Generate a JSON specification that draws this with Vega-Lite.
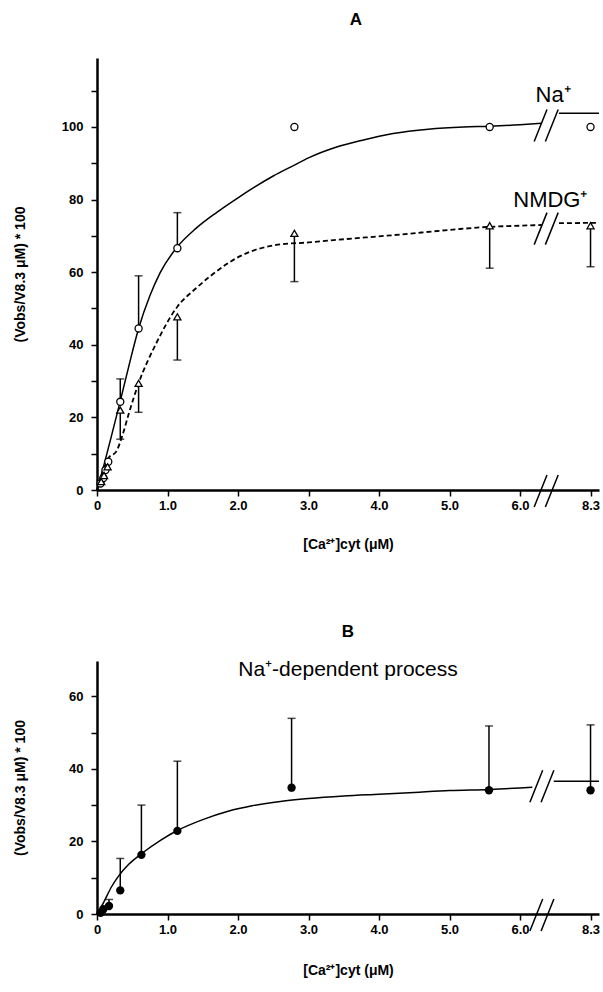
{
  "$schema": "https://vega.github.io/schema/vega-lite/v6.json",
  "background": "white",
  "padding": {"left": 13, "top": 11, "right": 0, "bottom": 5},
  "spacing": 72,
  "config": {
    "view": {"stroke": null},
    "font": "Liberation Sans",
    "axis": {"grid": false, "domainColor": "black", "domainWidth": 2.5, "tickColor": "black", "tickWidth": 1.5, "tickSize": 6,
      "labelColor": "black", "labelFont": "Liberation Sans", "labelFontWeight": "bold", "labelFontSize": 13,
      "titleFont": "Liberation Sans", "titleFontWeight": "bold", "titleFontSize": 14, "titleColor": "black"},
    "title": {"font": "Liberation Sans", "fontSize": 17, "fontWeight": "bold", "color": "black", "anchor": "middle",
      "subtitleFont": "Liberation Sans", "subtitleFontSize": 21, "subtitleColor": "black"}
  },
  "datasets": {
    "curveA": [
      {"series": "Na", "seg": 1, "ca": 0, "v": 0}, {"series": "Na", "seg": 1, "ca": 0.1, "v": 7}, {"series": "Na", "seg": 1, "ca": 0.2, "v": 14.5},
      {"series": "Na", "seg": 1, "ca": 0.33, "v": 24.5}, {"series": "Na", "seg": 1, "ca": 0.45, "v": 34}, {"series": "Na", "seg": 1, "ca": 0.59, "v": 44.5},
      {"series": "Na", "seg": 1, "ca": 0.75, "v": 53.5}, {"series": "Na", "seg": 1, "ca": 0.9, "v": 60}, {"series": "Na", "seg": 1, "ca": 1.14, "v": 67},
      {"series": "Na", "seg": 1, "ca": 1.4, "v": 72}, {"series": "Na", "seg": 1, "ca": 1.7, "v": 76.5}, {"series": "Na", "seg": 1, "ca": 2.0, "v": 80.5},
      {"series": "Na", "seg": 1, "ca": 2.5, "v": 86.5}, {"series": "Na", "seg": 1, "ca": 2.8, "v": 89.5}, {"series": "Na", "seg": 1, "ca": 3.0, "v": 91.5},
      {"series": "Na", "seg": 1, "ca": 3.4, "v": 94.5}, {"series": "Na", "seg": 1, "ca": 3.75, "v": 96.3}, {"series": "Na", "seg": 1, "ca": 4.2, "v": 98.2},
      {"series": "Na", "seg": 1, "ca": 4.7, "v": 99.4}, {"series": "Na", "seg": 1, "ca": 5.2, "v": 100}, {"series": "Na", "seg": 1, "ca": 5.57, "v": 100.2},
      {"series": "Na", "seg": 1, "ca": 6.0, "v": 100.6}, {"series": "Na", "seg": 1, "ca": 6.71, "v": 101},
      {"series": "Na", "seg": 2, "ca": 7.27, "v": 103.8}, {"series": "Na", "seg": 2, "ca": 8.576, "v": 103.8},
      {"series": "NMDG", "seg": 1, "ca": 0, "v": 0}, {"series": "NMDG", "seg": 1, "ca": 0.1, "v": 6}, {"series": "NMDG", "seg": 1, "ca": 0.17, "v": 9},
      {"series": "NMDG", "seg": 1, "ca": 0.27, "v": 10.5}, {"series": "NMDG", "seg": 1, "ca": 0.36, "v": 15}, {"series": "NMDG", "seg": 1, "ca": 0.45, "v": 21},
      {"series": "NMDG", "seg": 1, "ca": 0.59, "v": 29.4}, {"series": "NMDG", "seg": 1, "ca": 0.84, "v": 40.4}, {"series": "NMDG", "seg": 1, "ca": 1.14, "v": 50.5},
      {"series": "NMDG", "seg": 1, "ca": 1.4, "v": 55.5}, {"series": "NMDG", "seg": 1, "ca": 1.6, "v": 58.8}, {"series": "NMDG", "seg": 1, "ca": 2.06, "v": 64.7},
      {"series": "NMDG", "seg": 1, "ca": 2.54, "v": 67.5}, {"series": "NMDG", "seg": 1, "ca": 3.0, "v": 68.2}, {"series": "NMDG", "seg": 1, "ca": 3.4, "v": 68.9},
      {"series": "NMDG", "seg": 1, "ca": 4.2, "v": 70.2}, {"series": "NMDG", "seg": 1, "ca": 5.15, "v": 71.9}, {"series": "NMDG", "seg": 1, "ca": 5.57, "v": 72.5},
      {"series": "NMDG", "seg": 1, "ca": 6.0, "v": 72.8}, {"series": "NMDG", "seg": 1, "ca": 6.71, "v": 73.0},
      {"series": "NMDG", "seg": 2, "ca": 7.27, "v": 73.5}, {"series": "NMDG", "seg": 2, "ca": 8.576, "v": 73.6}
    ],
    "ptsA": [
      {"series": "Na", "ca": 0.05, "v": 1.8, "err": null}, {"series": "Na", "ca": 0.09, "v": 3.3, "err": null},
      {"series": "Na", "ca": 0.12, "v": 5.5, "err": null}, {"series": "Na", "ca": 0.16, "v": 7.8, "err": null},
      {"series": "Na", "ca": 0.33, "v": 24.3, "err": 30.6}, {"series": "Na", "ca": 0.59, "v": 44.5, "err": 59.0},
      {"series": "Na", "ca": 1.14, "v": 66.6, "err": 76.4}, {"series": "Na", "ca": 2.8, "v": 100, "err": null},
      {"series": "Na", "ca": 5.57, "v": 100, "err": null}, {"series": "Na", "ca": 8.3, "v": 100, "err": null},
      {"series": "NMDG", "ca": 0.06, "v": 2.3, "err": null}, {"series": "NMDG", "ca": 0.1, "v": 4, "err": null},
      {"series": "NMDG", "ca": 0.15, "v": 6.4, "err": null}, {"series": "NMDG", "ca": 0.33, "v": 22.0, "err": 14.0},
      {"series": "NMDG", "ca": 0.59, "v": 29.4, "err": 21.4}, {"series": "NMDG", "ca": 1.14, "v": 47.7, "err": 35.8},
      {"series": "NMDG", "ca": 2.8, "v": 70.7, "err": 57.4}, {"series": "NMDG", "ca": 5.57, "v": 72.8, "err": 61.1},
      {"series": "NMDG", "ca": 8.3, "v": 72.8, "err": 61.5}
    ],
    "breaksA": [{"ca": 6.88, "v": 100.4}, {"ca": 6.88, "v": 72}, {"ca": 6.88, "v": -0.3}],
    "labelsA": [{"label": "Na⁺", "ca": 7.08, "v": 107}, {"label": "NMDG⁺", "ca": 6.99, "v": 78}],
    "curveB": [
      {"seg": 1, "ca": 0, "v": 0}, {"seg": 1, "ca": 0.05, "v": 1.6}, {"seg": 1, "ca": 0.1, "v": 3.4}, {"seg": 1, "ca": 0.2, "v": 7.3},
      {"seg": 1, "ca": 0.3, "v": 10.3}, {"seg": 1, "ca": 0.45, "v": 13.7}, {"seg": 1, "ca": 0.63, "v": 16.6}, {"seg": 1, "ca": 0.9, "v": 20.3},
      {"seg": 1, "ca": 1.14, "v": 23}, {"seg": 1, "ca": 1.5, "v": 26}, {"seg": 1, "ca": 1.86, "v": 28.3}, {"seg": 1, "ca": 2.2, "v": 29.8},
      {"seg": 1, "ca": 2.6, "v": 31}, {"seg": 1, "ca": 3.0, "v": 31.8}, {"seg": 1, "ca": 3.5, "v": 32.5}, {"seg": 1, "ca": 4.0, "v": 33},
      {"seg": 1, "ca": 4.5, "v": 33.5}, {"seg": 1, "ca": 5.0, "v": 34}, {"seg": 1, "ca": 5.56, "v": 34.3}, {"seg": 1, "ca": 6.0, "v": 34.7},
      {"seg": 1, "ca": 6.4, "v": 34.9},
      {"seg": 2, "ca": 7.1, "v": 36.6}, {"seg": 2, "ca": 8.576, "v": 36.6}
    ],
    "ptsB": [
      {"ca": 0.05, "v": 0.3, "err": null}, {"ca": 0.09, "v": 1.3, "err": null}, {"ca": 0.17, "v": 2.2, "err": 4.0},
      {"ca": 0.33, "v": 6.5, "err": 15.3}, {"ca": 0.63, "v": 16.3, "err": 30.0}, {"ca": 1.14, "v": 22.9, "err": 42.1},
      {"ca": 2.76, "v": 34.8, "err": 53.9}, {"ca": 5.56, "v": 34.1, "err": 51.8}, {"ca": 8.3, "v": 34.1, "err": 52.1}
    ],
    "breaksB": [{"ca": 6.74, "v": 35.2}, {"ca": 6.74, "v": -0.3}]
  },
  "vconcat": [
    {
      "width": 502,
      "height": 432,
      "title": {"text": "A", "offset": 29, "dx": 8},
      "encoding": {
        "x": {"field": "ca", "type": "quantitative",
          "scale": {"domain": [0, 6, 8.576], "range": [0, 423, 502], "nice": false, "zero": false},
          "axis": {"values": [0, 1, 2, 3, 4, 5, 6, 8.3], "labelExpr": "datum.value == 0 ? '0' : format(datum.value, '.1f')",
            "title": "[Ca²⁺]cyt (μM)", "titlePadding": 25, "labelPadding": 3, "labelFlush": false}},
        "y": {"field": "v", "type": "quantitative",
          "scale": {"domain": [0, 119], "nice": false},
          "axis": {"values": [0, 10, 20, 30, 40, 50, 60, 70, 80, 90, 100, 110], "labelExpr": "datum.value % 20 == 0 ? datum.label : ''",
            "title": "(Vobs/V8.3 μM) * 100", "titlePadding": 34, "labelPadding": 8}}
      },
      "layer": [
        {"data": {"name": "curveA"}, "transform": [{"filter": "datum.series == 'Na'"}],
          "mark": {"type": "line", "color": "black", "strokeWidth": 1.5, "interpolate": "monotone"},
          "encoding": {"detail": {"field": "seg"}, "order": {"field": "ca"}}},
        {"data": {"name": "curveA"}, "transform": [{"filter": "datum.series == 'NMDG'"}],
          "mark": {"type": "line", "color": "black", "strokeWidth": 1.8, "strokeDash": [5, 3], "interpolate": "monotone"},
          "encoding": {"detail": {"field": "seg"}, "order": {"field": "ca"}}},
        {"data": {"name": "ptsA"}, "transform": [{"filter": "datum.err != null"}],
          "mark": {"type": "rule", "color": "black", "strokeWidth": 1.5},
          "encoding": {"y2": {"field": "err"}}},
        {"data": {"name": "ptsA"}, "transform": [{"filter": "datum.err != null"}],
          "mark": {"type": "tick", "orient": "horizontal", "color": "black", "size": 8, "thickness": 1.5},
          "encoding": {"y": {"field": "err", "type": "quantitative", "title": "(Vobs/V8.3 μM) * 100"}}},
        {"data": {"name": "ptsA"},
          "mark": {"type": "point", "filled": true, "fill": "white", "stroke": "black", "strokeWidth": 1.3, "size": 50, "opacity": 1},
          "encoding": {"shape": {"field": "series", "type": "nominal", "scale": {"domain": ["Na", "NMDG"], "range": ["circle", "triangle-up"]}, "legend": null}}},
        {"data": {"name": "breaksA"},
          "mark": {"type": "point", "shape": "M-0.8,1L0,-1M-0.1,1L0.7,-1", "filled": false, "stroke": "black", "strokeWidth": 1.5, "size": 1024, "opacity": 1}},
        {"data": {"name": "labelsA"},
          "mark": {"type": "text", "font": "Liberation Sans", "fontSize": 22, "color": "black", "align": "center", "baseline": "alphabetic"},
          "encoding": {"text": {"field": "label"}}}
      ]
    },
    {
      "width": 502,
      "height": 253,
      "title": {"text": "B", "subtitle": "Na⁺-dependent process", "offset": -20, "subtitlePadding": 18},
      "encoding": {
        "x": {"field": "ca", "type": "quantitative",
          "scale": {"domain": [0, 6, 8.576], "range": [0, 423, 502], "nice": false, "zero": false},
          "axis": {"values": [0, 1, 2, 3, 4, 5, 6, 8.3], "labelExpr": "datum.value == 0 ? '0' : format(datum.value, '.1f')",
            "title": "[Ca²⁺]cyt (μM)", "titlePadding": 27, "labelPadding": 3, "labelFlush": false}},
        "y": {"field": "v", "type": "quantitative",
          "scale": {"domain": [0, 69.7], "nice": false},
          "axis": {"values": [0, 10, 20, 30, 40, 50, 60], "labelExpr": "datum.value % 20 == 0 ? datum.label : ''",
            "title": "(Vobs/V8.3 μM) * 100", "titlePadding": 41, "labelPadding": 8}}
      },
      "layer": [
        {"data": {"name": "curveB"},
          "mark": {"type": "line", "color": "black", "strokeWidth": 1.5, "interpolate": "monotone"},
          "encoding": {"detail": {"field": "seg"}, "order": {"field": "ca"}}},
        {"data": {"name": "ptsB"}, "transform": [{"filter": "datum.err != null"}],
          "mark": {"type": "rule", "color": "black", "strokeWidth": 1.5},
          "encoding": {"y2": {"field": "err"}}},
        {"data": {"name": "ptsB"}, "transform": [{"filter": "datum.err != null"}],
          "mark": {"type": "tick", "orient": "horizontal", "color": "black", "size": 8, "thickness": 1.5},
          "encoding": {"y": {"field": "err", "type": "quantitative", "title": "(Vobs/V8.3 μM) * 100"}}},
        {"data": {"name": "ptsB"},
          "mark": {"type": "point", "shape": "circle", "filled": true, "fill": "black", "size": 70, "opacity": 1}},
        {"data": {"name": "breaksB"},
          "mark": {"type": "point", "shape": "M-0.8,1L0,-1M-0.1,1L0.7,-1", "filled": false, "stroke": "black", "strokeWidth": 1.5, "size": 1024, "opacity": 1}}
      ]
    }
  ]
}
